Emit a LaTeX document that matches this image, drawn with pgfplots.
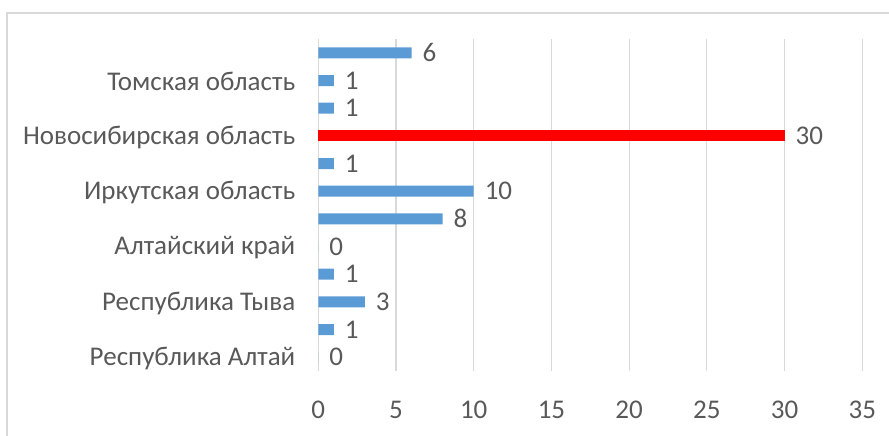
\documentclass[border=0pt]{standalone}
\usepackage{pgfplots}
\pgfplotsset{compat=1.18}
\usepackage{fontspec}
\setmainfont{Carlito}
\definecolor{bblue}{HTML}{5B9BD5}
\definecolor{bred}{HTML}{FF0000}
\definecolor{gridc}{HTML}{D9D9D9}
\definecolor{textc}{HTML}{595959}
\begin{document}
\begin{tikzpicture}
\draw[color=gridc, line width=1pt] (3.5pt,-20pt) -- (3.5pt,211pt) -- (470pt,211pt);
\begin{axis}[
  at={(159.15pt,32pt)}, anchor=south west,
  scale only axis, width=272pt, height=166pt,
  xmin=0, xmax=35, ymin=-0.5, ymax=11.5,
  xbar, bar width=5.5pt, bar shift=0pt,
  ytick={0,2,4,6,8,10},
  yticklabels={Республика Алтай, Республика Тыва, Алтайский край, Иркутская область, Новосибирская область, Томская область},
  xtick={0,5,...,35},
  xmajorgrids, ymajorgrids=false,
  grid style={color=gridc, line width=0.6pt},
  axis line style={draw=none},
  major tick length=0pt,
  ticklabel style={font=\fontsize{13.5}{16}\selectfont, text=textc},
  yticklabel style={anchor=east, xshift=-8pt, yshift=-0.7pt},
  xticklabel style={anchor=center, yshift=-19.5pt},
  /pgf/number format/assume math mode=true,
  nodes near coords,
  nodes near coords style={font=\fontsize{13.5}{16}\selectfont, text=textc, anchor=west, xshift=2pt},
  clip=false,
]
\addplot[fill=bblue, draw=none] coordinates {(0,0) (1,1) (3,2) (1,3) (0,4) (8,5) (10,6) (1,7) (1,9) (1,10) (6,11)};
\addplot[fill=bred, draw=none] coordinates {(30,8)};
\end{axis}
\pgfresetboundingbox
\useasboundingbox (0,0) rectangle (444.5pt,217.5pt);
\end{tikzpicture}
\end{document}
